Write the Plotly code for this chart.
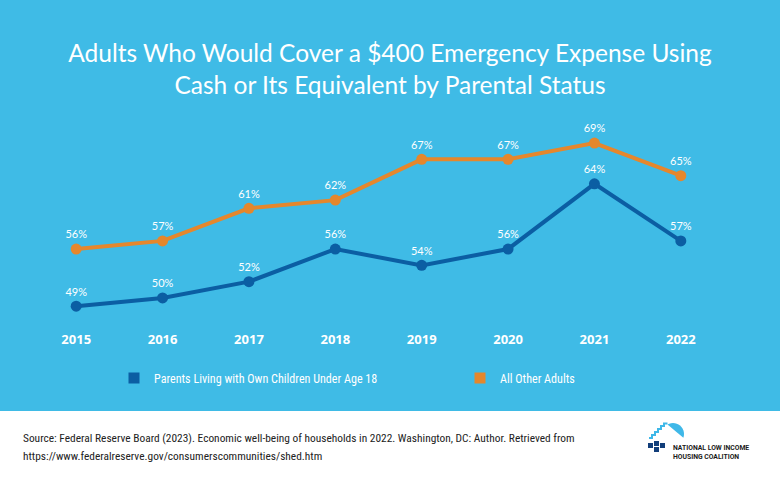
import plotly.graph_objects as go
import math

years = [2015, 2016, 2017, 2018, 2019, 2020, 2021, 2022]
parents = [49, 50, 52, 56, 54, 56, 64, 57]
others = [56, 57, 61, 62, 67, 67, 69, 65]
parents_name = "Parents Living with Own Children Under Age 18"
others_name = "All Other Adults"
title_text = "Adults Who Would Cover a $400 Emergency Expense Using<br>Cash or Its Equivalent by Parental Status"
source_lines = [
    "Source: Federal Reserve Board (2023). Economic well-being of households in 2022. Washington, DC: Author. Retrieved from",
    "https://www.federalreserve.gov/consumerscommunities/shed.htm",
]

W, H = 780, 480
ML, MR, MT, MB = 33, 56, 110, 160
PW, PH = W - ML - MR, H - MT - MB

def px(x):
    return (x - ML) / PW

def py(y):
    return 1 - (y - MT) / PH

BG = "#3FBBE6"
BLUE = "#0B5EA3"
ORANGE = "#E5872C"
NAVY = "#123E7A"
NARROW = "Liberation Sans Narrow, Roboto Condensed, Arial Narrow, sans-serif"

fig = go.Figure()
fig.add_trace(go.Scatter(
    x=years, y=others, mode="lines+markers+text", showlegend=False,
    line=dict(color=ORANGE, width=4), marker=dict(color=ORANGE, size=11),
    text=[f"{v}%" for v in others], textposition="top center",
    textfont=dict(color="white", size=11, family="Lato"), cliponaxis=False))
fig.add_trace(go.Scatter(
    x=years, y=parents, mode="lines+markers+text", showlegend=False,
    line=dict(color=BLUE, width=4), marker=dict(color=BLUE, size=11),
    text=[f"{v}%" for v in parents], textposition="top center",
    textfont=dict(color="white", size=11, family="Lato"), cliponaxis=False))
fig.add_trace(go.Scatter(x=[None], y=[None], mode="markers", name=parents_name,
                         marker=dict(color=BLUE, size=11, symbol="square"), legend="legend"))
fig.add_trace(go.Scatter(x=[None], y=[None], mode="markers", name=others_name,
                         marker=dict(color=ORANGE, size=11, symbol="square"), legend="legend2"))

shapes = []
shapes.append(dict(type="rect", xref="paper", yref="paper", x0=px(-5), x1=px(W + 5), y0=py(411), y1=py(H + 5),
                   fillcolor="white", line=dict(width=0), layer="below"))

def ppath(points, close=True):
    p = "M " + " L ".join(f"{px(a):.5f},{py(b):.5f}" for a, b in points)
    return p + (" Z" if close else "")

# logo dome
arc_pts = []
cx, cy, r = 673, 434, 11
for deg in range(120, -21, -10):
    a = math.radians(deg)
    arc_pts.append((cx + r * math.cos(a), cy - r * math.sin(a)))
shapes.append(dict(type="path", xref="paper", yref="paper", path=ppath(arc_pts),
                   fillcolor="#3FB8E8", line=dict(width=0)))
# stair steps
steps = [(649, 438), (652, 438), (652, 435), (655, 435), (655, 432), (658, 432), (658, 429), (661, 429),
         (661, 426), (664, 426), (664, 423.5), (667.5, 423.5)]
shapes.append(dict(type="path", xref="paper", yref="paper", path=ppath(steps, close=False),
                   line=dict(color="#3FB8E8", width=2)))
for (a, b) in [(648, 443), (654, 447), (660, 443), (654, 441)]:
    shapes.append(dict(type="rect", xref="paper", yref="paper", x0=px(a), x1=px(a + 5), y0=py(b), y1=py(b + 5),
                       fillcolor=NAVY, line=dict(width=0)))

annotations = []
for i, line in enumerate(source_lines):
    annotations.append(dict(text=line, xref="paper", yref="paper", x=px(21), y=py(438 + i * 18),
                            xanchor="left", yanchor="middle", showarrow=False,
                            font=dict(family=NARROW, size=11.4, color="#222222")))
annotations.append(dict(text="<b>NATIONAL LOW INCOME<br>HOUSING COALITION</b>", xref="paper", yref="paper",
                        x=px(671), y=py(452.5), xanchor="left", yanchor="middle", align="left", showarrow=False,
                        font=dict(family="Roboto", size=6.8, color="#1a1a1a")))

fig.update_layout(
    width=W, height=H,
    margin=dict(l=ML, r=MR, t=MT, b=MB),
    paper_bgcolor=BG, plot_bgcolor=BG,
    title=dict(text=title_text, x=0.5, xref="container", xanchor="center",
               y=1 - 62 / H, yref="container", yanchor="middle",
               font=dict(family="Lato", size=24.5, color="white")),
    xaxis=dict(range=[2014.5, 2022.5], tickvals=years, ticktext=[str(y) for y in years],
               showgrid=False, zeroline=False, showline=False, ticks="",
               tickfont=dict(family="Open Sans", size=13, color="white", weight="bold"),
               ticklabelstandoff=10, fixedrange=True),
    yaxis=dict(range=[47.3, 73.05], visible=False, showgrid=False, zeroline=False),
    legend=dict(x=px(114), y=py(378), xanchor="left", yanchor="middle", bgcolor="rgba(0,0,0,0)",
                font=dict(family=NARROW, size=12.1, color="white")),
    legend2=dict(x=px(460), y=py(378), xanchor="left", yanchor="middle", bgcolor="rgba(0,0,0,0)",
                 font=dict(family=NARROW, size=12.1, color="white")),
    shapes=shapes, annotations=annotations,
    showlegend=True,
)

fig.write_html("out.html", config={"displayModeBar": False},
               post_script="document.body.style.margin='0';document.body.style.overflow='hidden';")
